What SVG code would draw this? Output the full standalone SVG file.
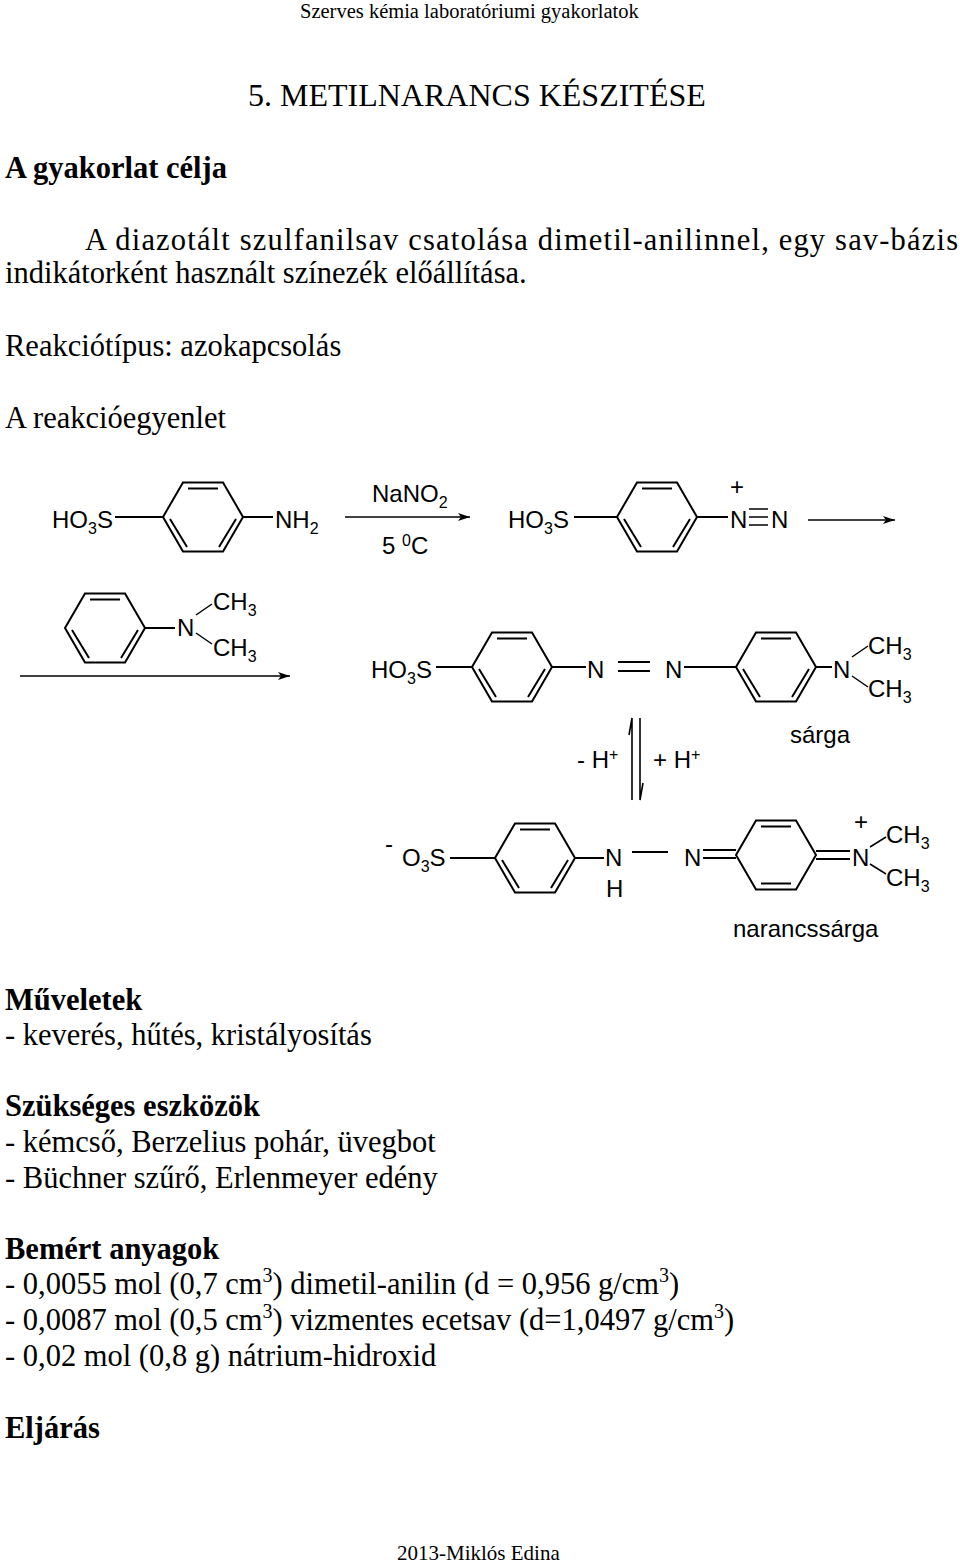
<svg xmlns="http://www.w3.org/2000/svg" width="960" height="1563" viewBox="0 0 960 1563">
<style>
.t{font-family:"Liberation Serif",serif;font-size:30.5px;fill:#000}
.b{font-weight:bold}
.c{font-family:"Liberation Sans",Arial,sans-serif;font-size:24px;fill:#000}
.s{font-size:16px}
.l{stroke:#000;stroke-width:2;fill:none}
</style>
<defs>
<marker id="ah" viewBox="0 0 12 8" refX="12" refY="4" markerWidth="14" markerHeight="8" markerUnits="userSpaceOnUse" orient="auto"><path d="M0,0L12,4L0,8L3,4z" fill="#000"/></marker>
<g id="benz"><path class="l" d="M-40,0L-20,-34.6L20,-34.6L40,0L20,34.6L-20,34.6Z"/><path class="l" d="M-15,-28.6L15,-28.6M33,2L16,30M-33,2L-16,30"/></g>
<g id="quin"><path class="l" d="M-40,0L-20,-34.6L20,-34.6L40,0L20,34.6L-20,34.6Z"/><path class="l" d="M-15,-28.6L15,-28.6M-15,28.6L15,28.6"/></g>
</defs>
<text class="t" x="300" y="18" style="font-size:20.5px">Szerves kémia laboratóriumi gyakorlatok</text>
<text class="t" x="248" y="106" style="font-size:32px">5. METILNARANCS KÉSZITÉSE</text>
<text class="t b" x="5" y="178">A gyakorlat célja</text>
<text class="t" x="85" y="250" textLength="873" lengthAdjust="spacing">A diazotált szulfanilsav csatolása dimetil-anilinnel, egy sav-bázis</text>
<text class="t" x="5" y="283">indikátorként használt színezék előállítása.</text>
<text class="t" x="5" y="356">Reakciótípus: azokapcsolás</text>
<text class="t" x="5" y="428">A reakcióegyenlet</text>

<g id="sulfanilic">
<text class="c" x="52" y="528">HO<tspan class="s" dy="6">3</tspan><tspan dy="-6">S</tspan></text>
<line class="l" x1="115" y1="517" x2="163" y2="517"/>
<use href="#benz" x="203" y="517"/>
<line class="l" x1="243" y1="517" x2="273" y2="517"/>
<text class="c" x="275" y="528">NH<tspan class="s" dy="6">2</tspan></text>
</g>
<g id="reagent1">
<text class="c" x="372" y="502">NaNO<tspan class="s" dy="6">2</tspan></text>
<text class="c" x="382" y="554">5 <tspan class="s" dy="-8">0</tspan><tspan dy="8">C</tspan></text>
</g>
<g id="diazonium">
<text class="c" x="508" y="528">HO<tspan class="s" dy="6">3</tspan><tspan dy="-6">S</tspan></text>
<line class="l" x1="574" y1="517" x2="617" y2="517"/>
<use href="#benz" x="657" y="517"/>
<line class="l" x1="697" y1="517" x2="728" y2="517"/>
<text class="c" x="730" y="495">+</text>
<text class="c" x="730" y="528">N</text>
<text class="c" x="771" y="528">N</text>
<path class="l" d="M749,509H768M749,517H768M749,525H768" style="stroke-width:1.6"/>
</g>
<g id="dimethylaniline">
<use href="#benz" x="105" y="628"/>
<line class="l" x1="145" y1="628" x2="175" y2="628"/>
<text class="c" x="177" y="636">N</text>
<path class="l" d="M196,615L212,604M196,633L212,644" style="stroke-width:1.5"/>
<text class="c" x="213" y="610">CH<tspan class="s" dy="6">3</tspan></text>
<text class="c" x="213" y="656">CH<tspan class="s" dy="6">3</tspan></text>
</g>
<g id="methylorange_acid">
<text class="c" x="371" y="678">HO<tspan class="s" dy="6">3</tspan><tspan dy="-6">S</tspan></text>
<line class="l" x1="436" y1="667" x2="472" y2="667"/>
<use href="#benz" x="512" y="667"/>
<line class="l" x1="552" y1="667" x2="586" y2="667"/>
<text class="c" x="587" y="678">N</text>
<path class="l" d="M618,662H650M618,671H650"/>
<text class="c" x="665" y="678">N</text>
<line class="l" x1="684" y1="667" x2="736" y2="667"/>
<use href="#benz" x="776" y="667"/>
<line class="l" x1="816" y1="667" x2="832" y2="667"/>
<text class="c" x="833" y="678">N</text>
<path class="l" d="M852,657L868,646M852,676L868,687" style="stroke-width:1.5"/>
<text class="c" x="868" y="654">CH<tspan class="s" dy="6">3</tspan></text>
<text class="c" x="868" y="697">CH<tspan class="s" dy="6">3</tspan></text>
<text class="c" x="790" y="743">sárga</text>
</g>
<g id="methylorange_base">
<text class="c" x="385" y="852">-</text>
<text class="c" x="402" y="866">O<tspan class="s" dy="6">3</tspan><tspan dy="-6">S</tspan></text>
<line class="l" x1="450" y1="858" x2="495" y2="858"/>
<use href="#benz" x="535" y="858"/>
<line class="l" x1="575" y1="858" x2="604" y2="858"/>
<text class="c" x="605" y="866">N</text>
<text class="c" x="606" y="897">H</text>
<line class="l" x1="632" y1="852" x2="668" y2="852"/>
<text class="c" x="684" y="866">N</text>
<path class="l" d="M703,850H736M703,858H736"/>
<use href="#quin" x="776" y="855"/>
<path class="l" d="M816,851H850M816,859H850"/>
<text class="c" x="852" y="866">N</text>
<text class="c" x="854" y="830">+</text>
<path class="l" d="M870,847L886,837M870,864L886,874" style="stroke-width:1.5"/>
<text class="c" x="886" y="843">CH<tspan class="s" dy="6">3</tspan></text>
<text class="c" x="886" y="886">CH<tspan class="s" dy="6">3</tspan></text>
<text class="c" x="733" y="937">narancssárga</text>
</g>
<g id="connectors">
<line class="l" x1="345" y1="517" x2="470" y2="517" marker-end="url(#ah)" style="stroke-width:1.5"/>
<line class="l" x1="808" y1="520" x2="895" y2="520" marker-end="url(#ah)" style="stroke-width:1.5"/>
<line class="l" x1="20" y1="676" x2="290" y2="676" marker-end="url(#ah)" style="stroke-width:1.5"/>
<path class="l" d="M632,800V718L629,735" style="stroke-width:1.6"/>
<path class="l" d="M640,718V800L643,783" style="stroke-width:1.6"/>
<text class="c" x="577" y="768">- H<tspan class="s" dy="-8">+</tspan></text>
<text class="c" x="653" y="768">+ H<tspan class="s" dy="-8">+</tspan></text>
</g>

<text class="t b" x="5" y="1010">Műveletek</text>
<text class="t" x="5" y="1045">- keverés, hűtés, kristályosítás</text>
<text class="t b" x="5" y="1116">Szükséges eszközök</text>
<text class="t" x="5" y="1152">- kémcső, Berzelius pohár, üvegbot</text>
<text class="t" x="5" y="1188">- Büchner szűrő, Erlenmeyer edény</text>
<text class="t b" x="5" y="1259">Bemért anyagok</text>
<text class="t" x="5" y="1294">- 0,0055 mol (0,7 cm<tspan style="font-size:20px" dy="-12">3</tspan><tspan dy="12">) dimetil-anilin (d = 0,956 g/cm</tspan><tspan style="font-size:20px" dy="-12">3</tspan><tspan dy="12">)</tspan></text>
<text class="t" x="5" y="1330">- 0,0087 mol (0,5 cm<tspan style="font-size:20px" dy="-12">3</tspan><tspan dy="12">) vizmentes ecetsav (d=1,0497 g/cm</tspan><tspan style="font-size:20px" dy="-12">3</tspan><tspan dy="12">)</tspan></text>
<text class="t" x="5" y="1366">- 0,02 mol (0,8 g) nátrium-hidroxid</text>
<text class="t b" x="5" y="1438">Eljárás</text>
<text class="t" x="397" y="1560" style="font-size:21px">2013-Miklós Edina</text>
</svg>
